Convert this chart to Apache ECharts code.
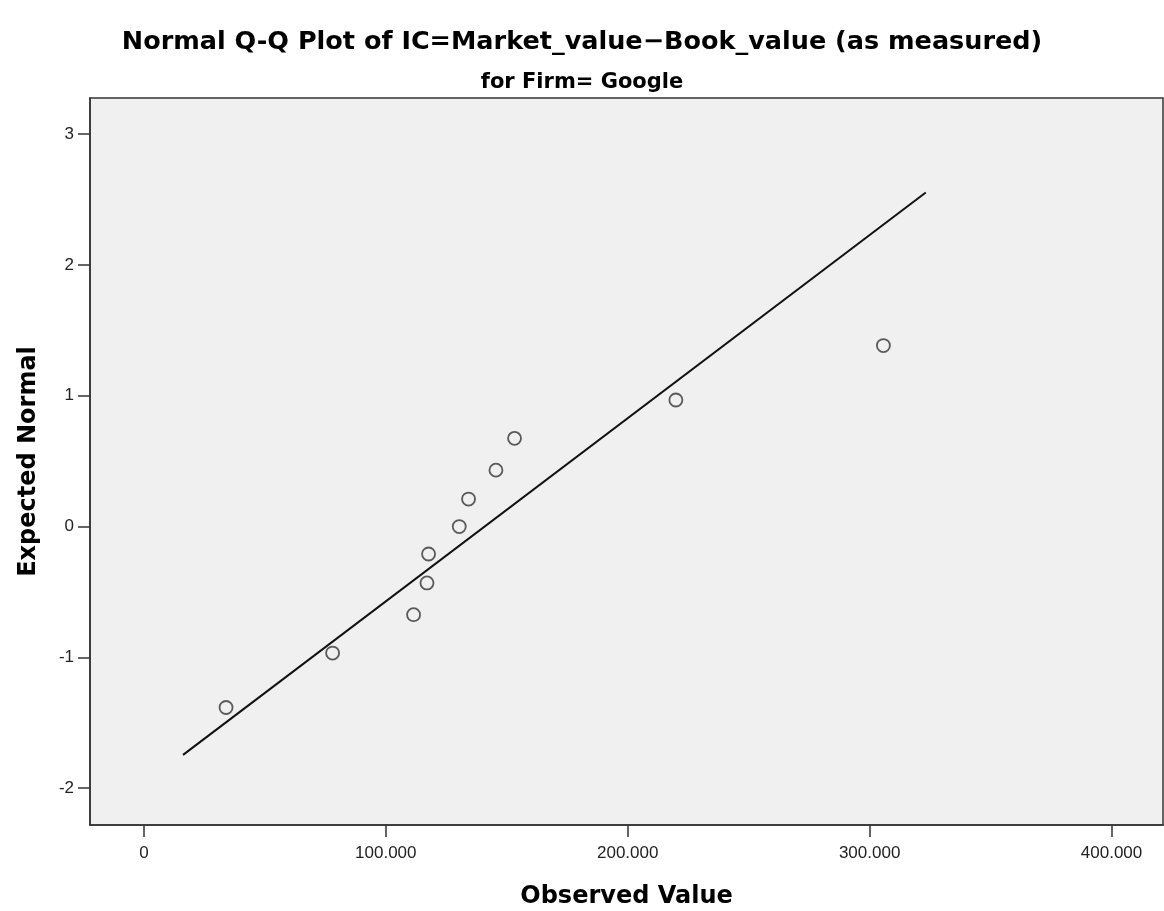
<!DOCTYPE html>
<html>
<head>
<meta charset="utf-8">
<script src="https://cdn.jsdelivr.net/npm/echarts@6/dist/echarts.min.js"></script>
<style>
html,body{margin:0;padding:0;background:#fff;}
#chart{width:1164px;height:911px;}
</style>
</head>
<body>
<div id="chart"></div>
<script>
// Observed values (x) and expected normal quantiles (y)
var observedValues = [33967, 78017, 111488, 117025, 117686, 130372, 134215, 145537, 153223, 219917, 305702];
var expectedNormal = [-1.383, -0.967, -0.674, -0.431, -0.210, 0, 0.210, 0.431, 0.674, 0.967, 1.383];
// Reference line end points
var lineX = [16198, 323223];
var lineY = [-1.745, 2.553];
// Tick values
var xTicks = [0, 100000, 200000, 300000, 400000];
var yTicks = [-2, -1, 0, 1, 2, 3];

var titleText = 'Normal Q-Q Plot of IC=Market_value\u2212Book_value (as measured)';
var subTitleText = 'for Firm= Google';
var xName = 'Observed Value';
var yName = 'Expected Normal';

function fmtX(v){
  if (v === 0) return '0';
  var s = Math.round(v).toString();
  return s.replace(/\B(?=(\d{3})+(?!\d))/g, '.');
}

var points = observedValues.map(function(x, i){ return [x, expectedNormal[i]]; });
var refLine = lineX.map(function(x, i){ return [x, lineY[i]]; });

var chart = echarts.init(document.getElementById('chart'), null, {renderer:'canvas'});
var boldFont = 'DejaVu Sans, Verdana, sans-serif';
var labelFont = {fontFamily:'Liberation Sans, Arial, sans-serif', fontSize:17, color:'#222'};
chart.setOption({
  animation:false,
  backgroundColor:'#ffffff',
  title:[
    {text:titleText, left:'center', top:24,
     textStyle:{fontFamily:boldFont, fontWeight:'bold', fontSize:25.5, color:'#000'}},
    {text:subTitleText, left:'center', top:67,
     textStyle:{fontFamily:boldFont, fontWeight:'bold', fontSize:21, color:'#000'}}
  ],
  grid:{left:90, right:1, top:98, bottom:86, show:true, backgroundColor:'#f0f0f0', borderColor:'#333', borderWidth:1.5,
        containLabel:false, outerBoundsMode:'none'},
  xAxis:{
    type:'value', min:-22270, max:421280,
    name:xName, nameLocation:'middle', nameGap:60,
    nameTextStyle:{fontFamily:boldFont, fontWeight:'bold', fontSize:24, color:'#000'},
    axisLine:{show:true, onZero:false, lineStyle:{color:'#333', width:1.5}},
    axisTick:{show:true, length:12, customValues:xTicks, lineStyle:{color:'#333', width:1.5}},
    axisLabel:Object.assign({show:true, margin:20, customValues:xTicks, formatter:fmtX}, labelFont),
    splitLine:{show:false}
  },
  yAxis:{
    type:'value', min:-2.281, max:3.275,
    name:yName, nameLocation:'middle', nameGap:49,
    nameTextStyle:{fontFamily:boldFont, fontWeight:'bold', fontSize:24, color:'#000'},
    axisLine:{show:true, onZero:false, lineStyle:{color:'#333', width:1.5}},
    axisTick:{show:true, length:12, customValues:yTicks, lineStyle:{color:'#333', width:1.5}},
    axisLabel:Object.assign({show:true, margin:16, customValues:yTicks, formatter:function(v){return String(v);}}, labelFont),
    splitLine:{show:false}
  },
  series:[
    {type:'line', data:refLine, symbol:'none', silent:true,
     lineStyle:{color:'#111', width:2}, z:2},
    {type:'scatter', data:points, symbol:'circle', symbolSize:13,
     itemStyle:{color:'rgba(0,0,0,0)', borderColor:'#333', borderWidth:1.8}, z:3}
  ]
});
</script>
</body>
</html>
